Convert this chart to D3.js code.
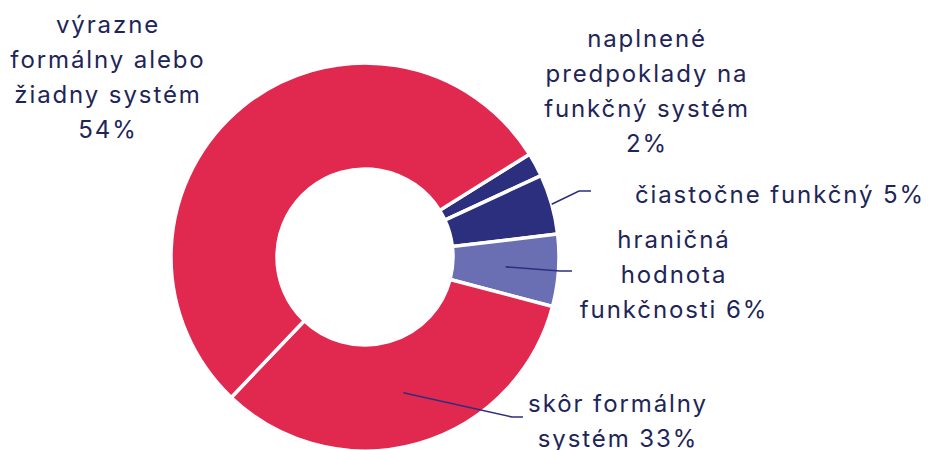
<!DOCTYPE html>
<html><head><meta charset="utf-8">
<script src="https://cdn.jsdelivr.net/npm/d3@7"></script>
<style>body{margin:0;background:#fff}svg{display:block}</style>
</head><body>
<svg id="c" width="928" height="450"></svg>
<script>
const categories = ["naplnené predpoklady na funkčný systém","čiastočne funkčný","hraničná hodnota funkčnosti","skôr formálny systém","výrazne formálny alebo žiadny systém"];
const values = [2, 5, 6, 33, 54];
const labelLines = [
  ["naplnené","predpoklady na","funkčný systém","2%"],
  ["čiastočne funkčný 5%"],
  ["hraničná","hodnota","funkčnosti 6%"],
  ["skôr formálny","systém 33%"],
  ["výrazne","formálny alebo","žiadny systém","54%"]
];
const colors = ["#2C2F7E","#2C2F7E","#6A6FB3","#E1284F","#E1284F"];

// layout
const W=928,H=450, cx=365, cy=257, R=194, r0=88;
const lineH=35;
const labelPos=[
  {x:646,y:47,leader:null},
  {x:779,y:203,leader:{r:R, elbowDx:-200, elbowDy:-12, endDx:-188}},
  {x:673,y:248,leader:{r:(R+r0)/2, elbowDx:-113, elbowDy:23, endDx:-101}},
  {x:617,y:412,leader:{r:(R+r0)/2, elbowDx:-105, elbowDy:5, endDx:-94}},
  {x:107,y:33,leader:null}
];

const svg=d3.select("#c");
const g=svg.append("g").attr("transform",`translate(${cx},${cy})`);
const start=58*Math.PI/180;
const pie=d3.pie().sort(null).value(d=>d).startAngle(start).endAngle(start+2*Math.PI);
const arcs=pie(values);
const arc=d3.arc().innerRadius(r0).outerRadius(R);
g.selectAll("path.s").data(arcs).join("path").attr("class","s")
  .attr("d",arc).attr("fill",(d,i)=>colors[i]).attr("stroke","#fff").attr("stroke-width",3.5).attr("stroke-linejoin","miter");

// leaders
arcs.forEach((d,i)=>{
  const lp=labelPos[i]; if(!lp.leader) return;
  const a=(d.startAngle+d.endAngle)/2;
  const rr=lp.leader.r;
  const p0=[cx+rr*Math.sin(a), cy-rr*Math.cos(a)];
  const ex=lp.x+lp.leader.elbowDx, ey=lp.y+lp.leader.elbowDy;
  svg.append("path").attr("d",d3.line()([p0,[ex,ey],[lp.x+lp.leader.endDx,ey]]))
    .attr("fill","none").attr("stroke","#2C2F7E").attr("stroke-width",1.6);
});

// labels
labelLines.forEach((lines,i)=>{
  const lp=labelPos[i];
  const t=svg.append("text").attr("text-anchor","middle")
    .attr("font-family","Inter, 'Noto Sans', sans-serif").attr("font-size",24)
    .attr("letter-spacing",1.9)
    .attr("fill","#1E2558");
  lines.forEach((l,j)=>t.append("tspan").attr("x",lp.x+1).attr("y",lp.y+j*lineH).text(l));
});
</script>
</body></html>
